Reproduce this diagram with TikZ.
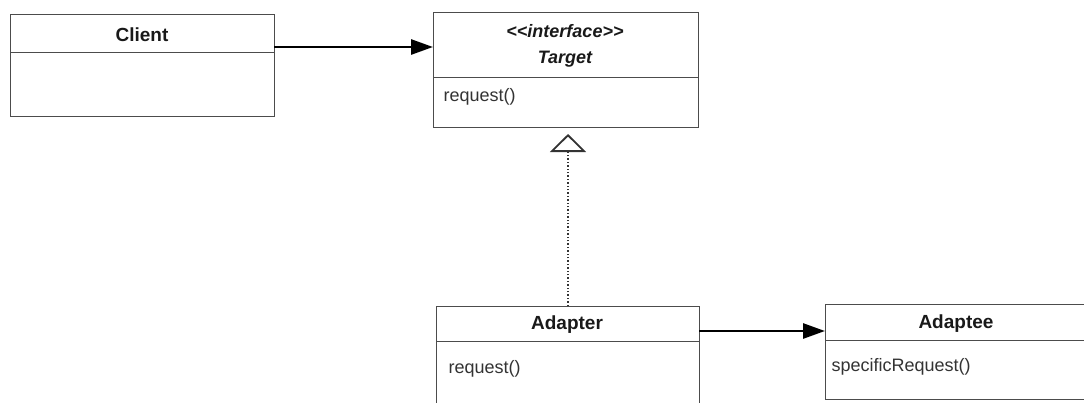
\documentclass[tikz,border=0pt]{standalone}
\usepackage{fontspec}
\setmainfont{Liberation Sans}
\usetikzlibrary{arrows.meta}
\begin{document}
\begin{tikzpicture}[x=1pt,y=-1pt,
  umlbox/.style={draw=black!70, line width=0.9pt, rectangle, anchor=north west, inner sep=0pt},
  divider/.style={draw=black!70, line width=0.9pt},
  title/.style={font=\fontsize{19}{21}\selectfont\bfseries, text=black!90},
  ititle/.style={font=\fontsize{18}{21}\selectfont\bfseries\itshape, text=black!90},
  member/.style={font=\fontsize{18}{21}\selectfont, text=black!80, anchor=west},
  assoc/.style={draw=black, line width=2.8pt, -{Triangle[length=22pt,width=15pt]}},
  realize/.style={draw=black!80, line width=1.4pt, dotted, -{Triangle[open,length=18pt,width=36pt,line width=1.8pt]}}
]
\useasboundingbox (0,0) rectangle (1084,402);
\clip (0,0) rectangle (1084,402);
% Client
\node[umlbox, minimum width=264pt, minimum height=102pt] (client) at (10,14) {};
\draw[divider] (10,52) -- (274,52);
\node[title] (clientname) at (142,35) {Client};
% Target
\node[umlbox, minimum width=265pt, minimum height=115pt] (target) at (433,12) {};
\draw[divider] (433,77) -- (698,77);
\node[ititle] (stereo) at (565,31) {{<}{<}interface{>}{>}};
\node[ititle] (targetname) at (565,59) {Target};
\node[member] (treq) at (440,97) {request()};
% Adapter
\node[umlbox, minimum width=263pt, minimum height=120pt] (adapter) at (436,306) {};
\draw[divider] (436,341) -- (699,341);
\node[title] (adaptername) at (567,325) {Adapter};
\node[member] (areq) at (445,369) {request()};
% Adaptee
\node[umlbox, minimum width=300pt, minimum height=95pt] (adaptee) at (825,304) {};
\draw[divider] (825,340) -- (1125,340);
\node[title] (adapteename) at (956,324) {Adaptee};
\node[member] (sreq) at (828,367) {specificRequest()};
% connectors
\coordinate (cout) at (274,47);
\coordinate (tin) at (433,47);
\draw[assoc] (cout) -- (tin);
\coordinate (aout) at (699,331);
\coordinate (ain) at (825,331);
\draw[assoc] (aout) -- (ain);
\coordinate (rbot) at (568,306);
\coordinate (rtop) at (568,134);
\draw[realize] (rbot) -- (rtop);
\end{tikzpicture}
\end{document}
